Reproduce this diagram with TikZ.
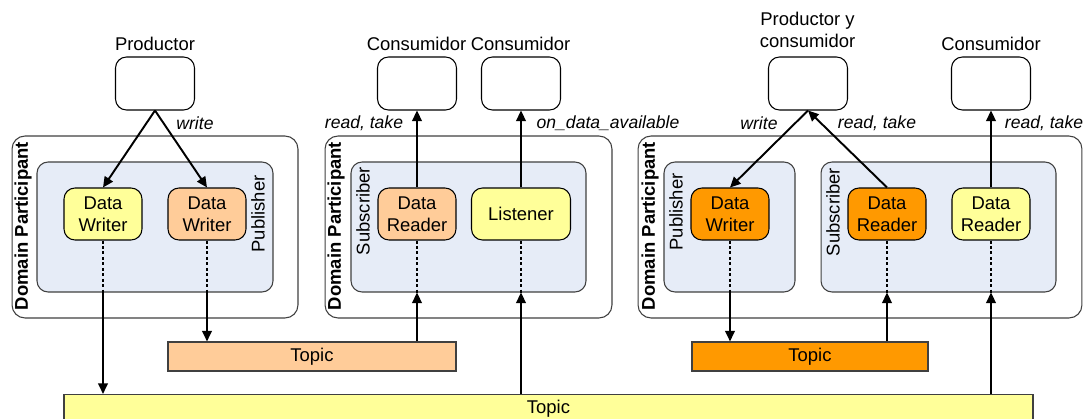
\documentclass[tikz,border=0pt]{standalone}
\usepackage{fontspec}
\setmainfont{Liberation Sans}
\usetikzlibrary{arrows.meta,positioning}
\definecolor{ltyellow}{HTML}{FFFF99}
\definecolor{ltorange}{HTML}{FFCC99}
\definecolor{dkorange}{HTML}{FF9900}
\definecolor{grpblue}{HTML}{E6ECF7}
\definecolor{edgegray}{HTML}{404040}
\tikzset{
  flow/.style={-{Triangle[length=6pt,width=5.5pt]},line width=1.1pt},
  link/.style={line width=1.1pt,dash pattern=on 1.7pt off 1.4pt},
  app/.style={draw=black,rounded corners=2.2mm,minimum width=1.58cm,minimum height=1.06cm,line width=0.6pt,fill=white},
  ent/.style={draw=black,rounded corners=2.2mm,minimum width=1.56cm,minimum height=1.04cm,line width=0.6pt,align=center,inner sep=1pt},
  part/.style={draw=edgegray,rounded corners=2.6mm,line width=0.6pt,fill=white},
  grp/.style={draw=edgegray,rounded corners=2.2mm,line width=0.6pt,fill=grpblue},
  topic/.style={draw=edgegray,line width=0.7pt,minimum height=0.54cm},
  vlbl/.style={rotate=90,inner sep=0pt},
  act/.style={font=\itshape},
}

\begin{document}
\begin{tikzpicture}[x=0.02cm,y=-0.02cm,font=\fontsize{10.5}{12.5}\selectfont]
  \useasboundingbox (0,0) rectangle (1086,419);
  % ---- participants and groups ----
  \node[part,minimum width=5.72cm,minimum height=3.64cm] (dp1) at (155,227) {};
  \node[grp,minimum width=4.72cm,minimum height=2.6cm] (pub1) at (155,227) {};
  \node[part,minimum width=5.74cm,minimum height=3.64cm] (dp2) at (468.5,227) {};
  \node[grp,minimum width=4.70cm,minimum height=2.6cm] (sub2) at (468.5,227) {};
  \node[part,minimum width=8.88cm,minimum height=3.64cm] (dp3) at (860,227) {};
  \node[grp,minimum width=2.62cm,minimum height=2.6cm] (pub3) at (729.5,227) {};
  \node[grp,minimum width=4.70cm,minimum height=2.6cm] (sub3) at (938.5,227) {};
  \node[vlbl,font=\fontsize{10.5}{12.5}\selectfont\bfseries] (dplbl1) at (23,226) {Domain Participant};
  \node[vlbl,font=\fontsize{10.5}{12.5}\selectfont\bfseries] (dplbl2) at (336,226) {Domain Participant};
  \node[vlbl,font=\fontsize{10.5}{12.5}\selectfont\bfseries] (dplbl3) at (650,226) {Domain Participant};
  \node[vlbl] (publbl1) at (258,214) {Publisher};
  \node[vlbl] (sublbl2) at (363,211) {Subscriber};
  \node[vlbl] (publbl3) at (676,212) {Publisher};
  \node[vlbl] (sublbl3) at (833,212) {Subscriber};
  % ---- writers, readers, listener ----
  \node[ent,fill=ltyellow] (dw1) at (103,214) {Data\\Writer};
  \node[ent,fill=ltorange] (dw2) at (207,214) {Data\\Writer};
  \node[ent,fill=ltorange] (dr2) at (417,214) {Data\\Reader};
  \node[ent,fill=ltyellow,minimum width=1.98cm] (lis2) at (521,214) {Listener};
  \node[ent,fill=dkorange] (dw3) at (730,214) {Data\\Writer};
  \node[ent,fill=dkorange] (dr3) at (887,214) {Data\\Reader};
  \node[ent,fill=ltyellow] (dr4) at (991,214) {Data\\Reader};
  % ---- applications ----
  \node[app] (prod1) at (155,83.5) {};
  \node[app] (cons1) at (417,83.5) {};
  \node[app] (cons2) at (521,83.5) {};
  \node[app] (prodcons) at (808,83.5) {};
  \node[app] (cons3) at (991,83.5) {};
  \node (prodlbl) at (155,44) {Productor};
  \node (conslbl1) at (416.5,44) {Consumidor};
  \node (conslbl2) at (520.5,44) {Consumidor};
  \node[align=center] (pclbl) at (807.5,30) {Productor y\\consumidor};
  \node (conslbl3) at (991,44) {Consumidor};
  % ---- topics ----
  \node[topic,fill=ltorange,minimum width=5.76cm] (tp1) at (312,356.5) {Topic};
  \node[topic,fill=dkorange,minimum width=4.72cm] (tp3) at (810,356.5) {Topic};
  \node[topic,fill=ltyellow,minimum width=19.38cm,minimum height=0.56cm] (tpall) at (548.5,409) {Topic};
  % ---- operations ----
  \draw[flow] (prod1.south) -- (dw1.north);
  \draw[flow] (prod1.south) -- (dw2.north);
  \draw[flow] (dr2.north) -- (cons1.south);
  \draw[flow] (lis2.north) -- (cons2.south);
  \draw[flow] (prodcons.south) -- (dw3.north);
  \draw[flow] (dr3.north) -- (prodcons.south);
  \draw[flow] (dr4.north) -- (cons3.south);
  \node[act] (wlbl1) at (195,123) {write};
  \node[act] (rtlbl2) at (364,123) {read, take};
  \node[act] (odalbl) at (608,123) {on\_data\_available};
  \node[act] (wlbl3) at (759,123) {write};
  \node[act] (rtlbl3) at (877,123) {read, take};
  \node[act] (rtlbl4) at (1044,123) {read, take};
  % ---- links to topics ----
  \draw[link] (dw1.south) -- (dw1.south |- pub1.south);
  \draw[flow] (dw1.south |- pub1.south) -- (dw1.south |- tpall.north);
  \draw[link] (dw2.south) -- (dw2.south |- pub1.south);
  \draw[flow] (dw2.south |- pub1.south) -- (dw2.south |- tp1.north);
  \draw[link] (dr2.south) -- (dr2.south |- sub2.south);
  \draw[flow] (dr2.south |- tp1.north) -- (dr2.south |- sub2.south);
  \draw[link] (lis2.south) -- (lis2.south |- sub2.south);
  \draw[flow] (lis2.south |- tpall.north) -- (lis2.south |- sub2.south);
  \draw[link] (dw3.south) -- (dw3.south |- pub3.south);
  \draw[flow] (dw3.south |- pub3.south) -- (dw3.south |- tp3.north);
  \draw[link] (dr3.south) -- (dr3.south |- sub3.south);
  \draw[flow] (dr3.south |- tp3.north) -- (dr3.south |- sub3.south);
  \draw[link] (dr4.south) -- (dr4.south |- sub3.south);
  \draw[flow] (dr4.south |- tpall.north) -- (dr4.south |- sub3.south);
\end{tikzpicture}
\end{document}
